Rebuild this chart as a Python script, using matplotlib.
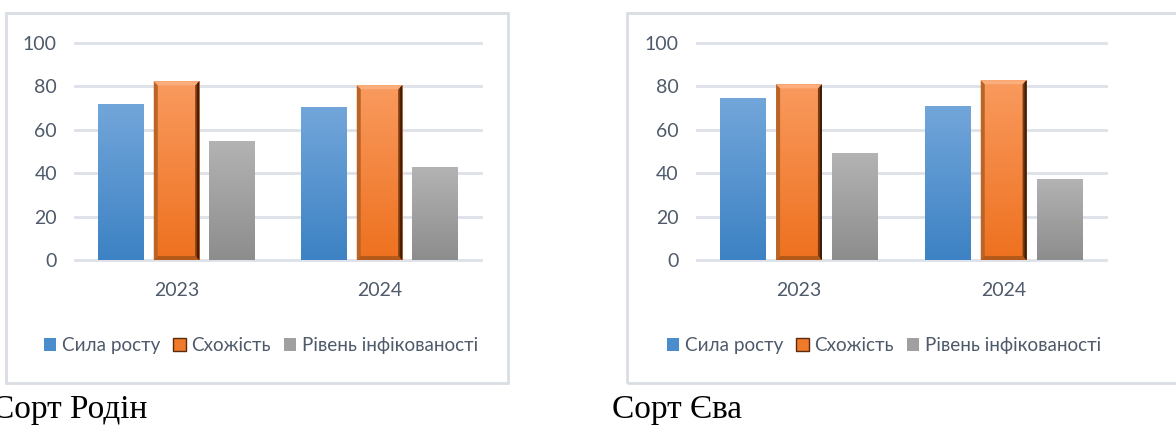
import matplotlib
matplotlib.use("Agg")
import matplotlib.pyplot as plt
import numpy as np
from matplotlib.patches import Rectangle, Polygon, Patch
from matplotlib.colors import LinearSegmentedColormap

years = ["2023", "2024"]
series = ["Сила росту", "Схожість", "Рівень інфікованості"]
rodin_vigor = [72, 70.3]
rodin_germ = [82.2, 80.4]
rodin_infect = [54.6, 42.6]
eva_vigor = [74.4, 70.9]
eva_germ = [80.8, 82.7]
eva_infect = [49.1, 37.3]
captions = ["Сорт Родін", "Сорт Єва"]

W, H = 1176, 425
fig = plt.figure(figsize=(W / 100, H / 100), dpi=100)
plt.rcParams['font.family'] = ['Lato', 'DejaVu Sans']

txt_col = '#4f5a6a'
grid_col = '#dde1e8'
blue_cm = LinearSegmentedColormap.from_list("b", ['#3d82c4', '#72a6da'])
gray_cm = LinearSegmentedColormap.from_list("g", ['#8d8d8d', '#b3b3b3'])
orange_cm = LinearSegmentedColormap.from_list("o", ['#ee711f', '#f99a5e'])
grad = np.linspace(0, 1, 100).reshape(-1, 1)


def fill_gradient(ax, patch, cmap):
    x0, y0 = patch.get_x(), patch.get_y()
    x1, y1 = x0 + patch.get_width(), y0 + patch.get_height()
    im = ax.imshow(grad, cmap=cmap, extent=(x0, x1, y0, y1), origin='lower',
                   aspect='auto', zorder=2, interpolation='bilinear')
    im.set_clip_path(patch)


def bevel(ax, patch, bx, by):
    x0, y0 = patch.get_x(), patch.get_y()
    x1, y1 = x0 + patch.get_width(), y0 + patch.get_height()
    sides = [
        ([(x0, y1), (x1, y1), (x1 - bx, y1 - by), (x0 + bx, y1 - by)], '#fbad7c'),
        ([(x0, y0), (x0, y1), (x0 + bx, y1 - by), (x0 + bx, y0 + by)], '#bb6428'),
        ([(x0, y0), (x1, y0), (x1 - bx, y0 + by), (x0 + bx, y0 + by)], '#b5591b'),
        ([(x1, y0), (x1, y1), (x1 - bx, y1 - by), (x1 - bx, y0 + by)], '#7a3a12'),
    ]
    for pts, c in sides:
        ax.add_patch(Polygon(pts, closed=True, facecolor=c, edgecolor='none', zorder=3))
    # darker outer strip on the right side
    ax.add_patch(Polygon([(x1, y0), (x1, y1), (x1 - bx / 2, y1 - by / 2), (x1 - bx / 2, y0 + by / 2)],
                         closed=True, facecolor='#3e1d08', edgecolor='none', zorder=3))


def draw_chart(left_px, right_px, data, box, caption, cap_x, leg_cx):
    top_px, bot_px = 42.7, 260
    ax = fig.add_axes([left_px / W, (H - bot_px) / H, (right_px - left_px) / W,
                       (bot_px - top_px) / H])
    x = np.arange(len(years))
    width = 0.224
    step = 0.274
    cmaps = [blue_cm, orange_cm, gray_cm]
    bx = 4.0 / ((right_px - left_px) / 2)
    by = 4.0 / ((bot_px - top_px) / 100)
    for i, vals in enumerate(data):
        bars = ax.bar(x + (i - 1) * step, vals, width, color='none', zorder=2)
        for p in bars.patches:
            fill_gradient(ax, p, cmaps[i])
            if i == 1:
                bevel(ax, p, bx, by)
    ax.set_xlim(-0.5, 1.5)
    ax.set_ylim(0, 100)
    ax.set_yticks(np.arange(0, 101, 20))
    ax.set_xticks(x)
    ax.set_xticklabels(years)
    ax.grid(axis='y', color=grid_col, linewidth=2)
    for gl in ax.get_ygridlines():
        gl.set_clip_on(False)
    ax.set_axisbelow(True)
    for s in ax.spines.values():
        s.set_visible(False)
    ax.tick_params(length=0, colors=txt_col, labelsize=14)
    ax.tick_params(axis='y', pad=13)
    ax.tick_params(axis='x', pad=16)

    handles = [Patch(facecolor='#4a8ccc'), Patch(facecolor='#f07a2c', edgecolor='#5a2a0c'),
               Patch(facecolor='#a0a0a0')]
    fig.legend(handles, series, loc='center', bbox_to_anchor=(leg_cx / W, 1 - 345.7 / H),
               ncol=3, frameon=False, fontsize=13.6, labelcolor=txt_col,
               handlelength=0.65, handleheight=0.65, handletextpad=0.3,
               columnspacing=0.7, borderaxespad=0)

    fig.add_artist(Rectangle((box[0] / W, (H - box[3]) / H), (box[1] - box[0]) / W,
                             (box[3] - box[2]) / H, transform=fig.transFigure,
                             facecolor='none', edgecolor='#d9dde4', linewidth=2))
    fig.text(cap_x / W, 7 / H, caption, family='Liberation Serif', fontsize=24,
             color='black', va='baseline', ha='left')


draw_chart(75, 481, [rodin_vigor, rodin_germ, rodin_infect], (6, 508, 13, 383),
           captions[0], -8, 261)
draw_chart(696.7, 1106, [eva_vigor, eva_germ, eva_infect], (627, 1200, 13, 383),
           captions[1], 611.7, 884)

fig.savefig("out.png", dpi=100)
